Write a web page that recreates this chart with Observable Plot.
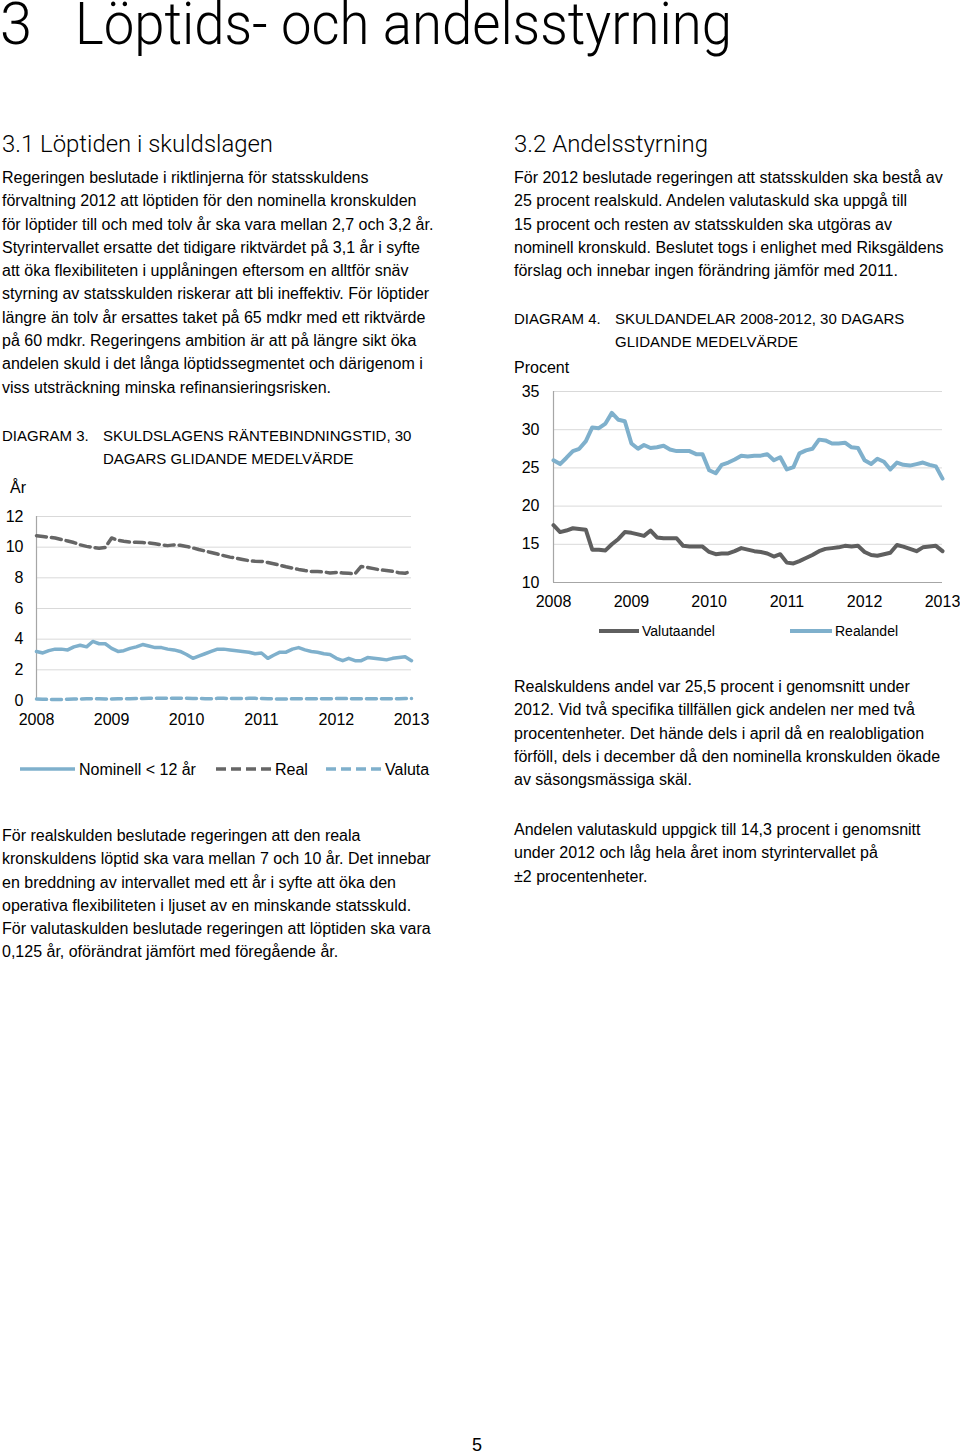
<!DOCTYPE html>
<html><head><meta charset="utf-8">
<script src="https://cdn.jsdelivr.net/npm/d3@7"></script>
<script src="https://cdn.jsdelivr.net/npm/@observablehq/plot@0.6"></script>
<style>
body{margin:0;background:#fff;}
#page{position:relative;width:960px;height:1454px;overflow:hidden;font-family:"Liberation Sans",Arial,Helvetica,sans-serif;color:#000;background:#fff;}
.abs{position:absolute;white-space:nowrap;}
.body{font-size:16px;line-height:23.3px;}
.fit{display:inline-block;transform-origin:0 0;}
.light{font-family:Roboto,"Liberation Sans",sans-serif;font-weight:300;}
.dtitle{font-size:15px;line-height:22.5px;}
svg{overflow:visible;}
</style></head>
<body><div id="page">
<div class="abs light" style="left:0;top:1px;font-size:60px;line-height:46px;"><span class="fit" id="t1">3</span></div>
<div class="abs light" style="left:75px;top:1px;font-size:60px;line-height:46px;"><span class="fit" id="t2">Löptids- och andelsstyrning</span></div>

<div class="abs light" style="left:2px;top:132px;font-size:23px;line-height:26px;"><span class="fit" id="h1">3.1 Löptiden i skuldslagen</span></div>
<div class="abs light" style="left:514px;top:132px;font-size:23px;line-height:26px;"><span class="fit" id="h2">3.2 Andelsstyrning</span></div>

<div class="abs body" style="left:2px;top:166px;">Regeringen beslutade i riktlinjerna för statsskuldens<br>förvaltning 2012 att löptiden för den nominella kronskulden<br>för löptider till och med tolv år ska vara mellan 2,7 och 3,2 år.<br>Styrintervallet ersatte det tidigare riktvärdet på 3,1 år i syfte<br>att öka flexibiliteten i upplåningen eftersom en alltför snäv<br>styrning av statsskulden riskerar att bli ineffektiv. För löptider<br>längre än tolv år ersattes taket på 65 mdkr med ett riktvärde<br>på 60 mdkr. Regeringens ambition är att på längre sikt öka<br>andelen skuld i det långa löptidssegmentet och därigenom i<br>viss utsträckning minska refinansieringsrisken.</div>

<div class="abs body" style="left:514px;top:166px;">För 2012 beslutade regeringen att statsskulden ska bestå av<br>25 procent realskuld. Andelen valutaskuld ska uppgå till<br>15 procent och resten av statsskulden ska utgöras av<br>nominell kronskuld. Beslutet togs i enlighet med Riksgäldens<br>förslag och innebar ingen förändring jämför med 2011.</div>

<div class="abs dtitle" style="left:2px;top:425px;">DIAGRAM 3.</div>
<div class="abs dtitle" style="left:103px;top:425px;">SKULDSLAGENS RÄNTEBINDNINGSTID, 30<br>DAGARS GLIDANDE MEDELVÄRDE</div>
<div class="abs" style="left:10px;top:478px;font-size:16px;line-height:20px;">År</div>
<div id="chart3" class="abs" style="left:0;top:500px;"></div>
<svg class="abs" style="left:0;top:755px;" width="440" height="30">
  <g font-family="Liberation Sans, Arial, sans-serif" font-size="16" fill="#000">
    <line x1="20" x2="75" y1="14" y2="14" stroke="#7fb0cc" stroke-width="3.5"/>
    <text x="79" y="19.5">Nominell &lt; 12 år</text>
    <line x1="216" x2="272" y1="14" y2="14" stroke="#666666" stroke-width="3.5" stroke-dasharray="10,5"/>
    <text x="275" y="19.5">Real</text>
    <line x1="326" x2="381" y1="14" y2="14" stroke="#7fb0cc" stroke-width="3.5" stroke-dasharray="10,5"/>
    <text x="385" y="19.5">Valuta</text>
  </g>
</svg>

<div class="abs dtitle" style="left:514px;top:308px;">DIAGRAM 4.</div>
<div class="abs dtitle" style="left:615px;top:308px;">SKULDANDELAR 2008-2012, 30 DAGARS<br>GLIDANDE MEDELVÄRDE</div>
<div class="abs" style="left:514px;top:358px;font-size:16px;line-height:20px;">Procent</div>
<div id="chart4" class="abs" style="left:510px;top:370px;"></div>
<svg class="abs" style="left:510px;top:618px;" width="450" height="26">
  <g font-family="Liberation Sans, Arial, sans-serif" font-size="14" fill="#000">
    <line x1="89" x2="129" y1="13" y2="13" stroke="#5f5f5f" stroke-width="4"/>
    <text x="132" y="18">Valutaandel</text>
    <line x1="280" x2="322" y1="13" y2="13" stroke="#7fb0cc" stroke-width="4"/>
    <text x="325" y="18">Realandel</text>
  </g>
</svg>

<div class="abs body" style="left:514px;top:675px;">Realskuldens andel var 25,5 procent i genomsnitt under<br>2012. Vid två specifika tillfällen gick andelen ner med två<br>procentenheter. Det hände dels i april då en realobligation<br>förföll, dels i december då den nominella kronskulden ökade<br>av säsongsmässiga skäl.</div>

<div class="abs body" style="left:514px;top:818px;">Andelen valutaskuld uppgick till 14,3 procent i genomsnitt<br>under 2012 och låg hela året inom styrintervallet på<br>±2 procentenheter.</div>

<div class="abs body" style="left:2px;top:824px;">För realskulden beslutade regeringen att den reala<br>kronskuldens löptid ska vara mellan 7 och 10 år. Det innebar<br>en breddning av intervallet med ett år i syfte att öka den<br>operativa flexibiliteten i ljuset av en minskande statsskuld.<br>För valutaskulden beslutade regeringen att löptiden ska vara<br>0,125 år, oförändrat jämfört med föregående år.</div>

<div class="abs" style="left:472px;top:1436px;font-size:18px;line-height:18px;">5</div>
</div>
<script>
// ---- Data (monthly readings, Jan 2008 – Jan 2013) ----
const years = [2008, 2009, 2010, 2011, 2012, 2013];
const seriesNames3 = ["Nominell < 12 år", "Real", "Valuta"];
const nominell = [3.2,3.1,3.25,3.35,3.35,3.3,3.5,3.6,3.5,3.85,3.7,3.7,
 3.4,3.2,3.25,3.4,3.5,3.65,3.55,3.45,3.45,3.35,3.3,3.2,
 3.0,2.75,2.9,3.05,3.2,3.35,3.35,3.3,3.25,3.2,3.15,3.05,
 3.1,2.75,2.95,3.15,3.15,3.35,3.45,3.3,3.2,3.15,3.05,3.0,
 2.75,2.6,2.75,2.6,2.6,2.8,2.75,2.7,2.65,2.75,2.8,2.85,
 2.6];
const real = [10.75,10.7,10.65,10.6,10.5,10.4,10.3,10.15,10.05,9.98,9.93,9.98,
 10.6,10.45,10.38,10.33,10.32,10.3,10.28,10.22,10.15,10.1,10.15,10.12,
 10.05,9.95,9.85,9.75,9.65,9.55,9.45,9.35,9.28,9.2,9.12,9.08,
 9.07,9.0,8.92,8.82,8.72,8.63,8.55,8.48,8.42,8.41,8.38,8.32,
 8.35,8.32,8.3,8.26,8.74,8.68,8.6,8.52,8.48,8.42,8.33,8.3,
 8.42];
const valuta = [0.10,0.08,0.07,0.06,0.07,0.08,0.09,0.10,0.11,0.12,0.11,0.10,
 0.10,0.11,0.12,0.12,0.13,0.13,0.14,0.14,0.14,0.15,0.15,0.14,
 0.14,0.13,0.13,0.12,0.12,0.14,0.14,0.13,0.13,0.13,0.14,0.14,
 0.13,0.12,0.11,0.10,0.10,0.11,0.12,0.12,0.11,0.11,0.12,0.12,
 0.13,0.13,0.12,0.11,0.11,0.12,0.12,0.12,0.11,0.11,0.12,0.13,
 0.13];
const seriesNames4 = ["Valutaandel", "Realandel"];
const realandel = [26.0,25.5,26.3,27.2,27.5,28.5,30.3,30.2,30.8,32.2,31.3,31.1,
 28.2,27.5,28.0,27.6,27.7,27.9,27.4,27.2,27.2,27.2,26.8,26.8,
 24.7,24.3,25.4,25.7,26.1,26.6,26.5,26.6,26.6,26.8,26.0,26.4,
 24.8,25.1,26.9,27.3,27.5,28.7,28.6,28.2,28.2,28.3,27.7,27.6,
 26.0,25.5,26.2,25.8,24.8,25.7,25.4,25.3,25.5,25.7,25.4,25.2,
 23.6];
const valutaandel = [17.5,16.6,16.8,17.1,17.0,16.9,14.3,14.3,14.2,15.0,15.7,16.6,
 16.5,16.3,16.1,16.8,15.9,15.8,15.8,15.8,14.8,14.7,14.7,14.7,
 14.0,13.7,13.8,13.8,14.1,14.5,14.3,14.1,14.0,13.8,13.4,13.7,
 12.6,12.5,12.8,13.2,13.6,14.1,14.4,14.5,14.6,14.8,14.7,14.8,
 14.0,13.6,13.5,13.7,13.9,14.9,14.7,14.4,14.1,14.6,14.7,14.8,
 14.1];
const yTicks3 = [0, 2, 4, 6, 8, 10, 12];
const yTicks4 = [10, 15, 20, 25, 30, 35];

// ---- Build ----
const months = d3.utcMonth.range(new Date(Date.UTC(2008,0,1)), new Date(Date.UTC(2013,0,2)));
const yearDates = years.map(y => new Date(Date.UTC(y,0,1)));
const BLUE = "#7fb0cc", GRAY = "#666666", GRAY4 = "#5f5f5f";
const toRows = arr => arr.map((v,i) => ({date: months[i], value: v}));
const style = {fontFamily: "Liberation Sans, Arial, sans-serif", fontSize: "16px", color: "#000", background: "transparent", overflow: "visible"};

const c3 = Plot.plot({
  width: 440, height: 240,
  marginLeft: 36, marginRight: 29, marginTop: 16, marginBottom: 40,
  style,
  x: {type: "utc", domain: [yearDates[0], yearDates[yearDates.length-1]]},
  y: {domain: [0, 12]},
  marks: [
    Plot.gridY(yTicks3.filter(d => d > 0), {stroke: "#d9d9d9", strokeOpacity: 1, strokeWidth: 1}),
    Plot.ruleX([yearDates[0]], {stroke: "#a6a6a6", strokeWidth: 1.2}),
    Plot.axisY(yTicks3, {tickSize: 0, tickPadding: 13, label: null}),
    Plot.axisX(yearDates, {tickSize: 0, tickPadding: 13, tickFormat: d3.utcFormat("%Y"), label: null}),
    Plot.lineY(toRows(valuta), {x: "date", y: "value", stroke: BLUE, strokeWidth: 3.5, strokeDasharray: "10,5"}),
    Plot.lineY(toRows(real), {x: "date", y: "value", stroke: GRAY, strokeWidth: 3.5, strokeDasharray: "10,5"}),
    Plot.lineY(toRows(nominell), {x: "date", y: "value", stroke: BLUE, strokeWidth: 3.5, strokeLinejoin: "round"})
  ]
});
document.getElementById("chart3").append(c3);

const c4 = Plot.plot({
  width: 450, height: 250,
  marginLeft: 43, marginRight: 18, marginTop: 21, marginBottom: 38,
  style,
  x: {type: "utc", domain: [yearDates[0], yearDates[yearDates.length-1]]},
  y: {domain: [10, 35]},
  marks: [
    Plot.gridY(yTicks4, {stroke: "#d9d9d9", strokeOpacity: 1, strokeWidth: 1}),
    Plot.ruleY([10], {stroke: "#a6a6a6", strokeWidth: 1.2}),
    Plot.ruleX([yearDates[0]], {stroke: "#a6a6a6", strokeWidth: 1.2}),
    Plot.axisY(yTicks4, {tickSize: 0, tickPadding: 14, label: null}),
    Plot.axisX(yearDates, {tickSize: 0, tickPadding: 13, tickFormat: d3.utcFormat("%Y"), label: null}),
    Plot.lineY(toRows(valutaandel), {x: "date", y: "value", stroke: GRAY4, strokeWidth: 4, strokeLinejoin: "round"}),
    Plot.lineY(toRows(realandel), {x: "date", y: "value", stroke: BLUE, strokeWidth: 4, strokeLinejoin: "round"})
  ]
});
document.getElementById("chart4").append(c4);

// Fit heading widths to the reference layout
function fit(id, w) {
  const el = document.getElementById(id);
  const r = el.getBoundingClientRect().width;
  if (r > 0) el.style.transform = `scaleX(${w / r})`;
}
fit("t1", 32); fit("t2", 657); fit("h1", 271); fit("h2", 194);
</script>
</body></html>
